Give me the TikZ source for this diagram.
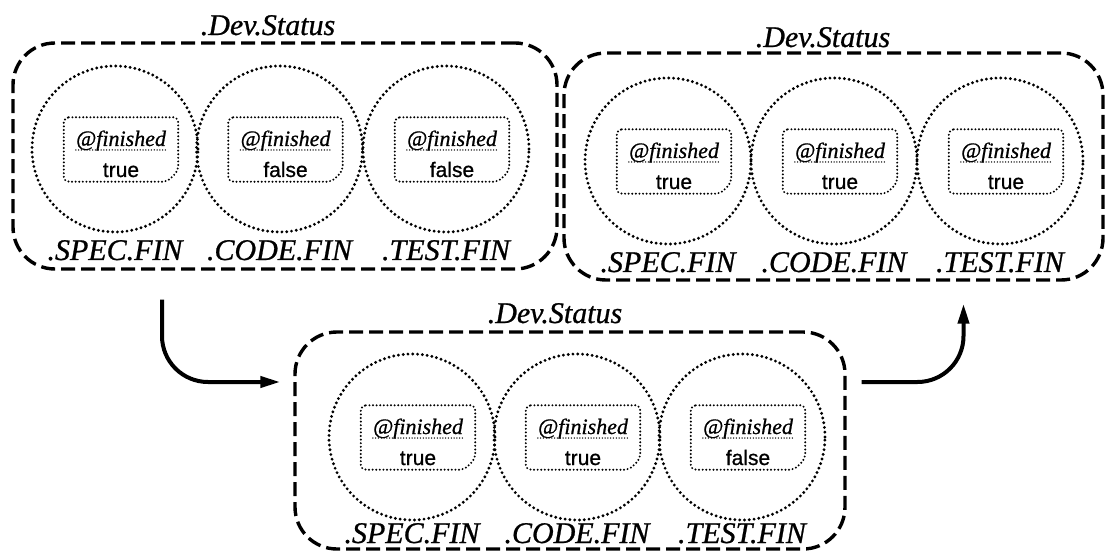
\documentclass[tikz,border=0pt]{standalone}
\usepackage{fontspec}
\setmainfont{Liberation Serif}[FakeBold=0.8]
\newfontfamily\valfont{Liberation Sans}[FakeBold=0.8]
\usetikzlibrary{arrows.meta}

\tikzset{
  container/.style={draw, line width=3.4pt, dash pattern=on 14pt off 6pt,
    rounded corners=42pt, inner sep=0pt},
  heading/.style={font=\fontsize{30}{30}\selectfont\itshape, inner sep=0pt, anchor=base},
  part/.style={circle, draw, line width=3.2pt, dash pattern=on 0pt off 4.8pt,
    line cap=round, minimum size=166pt, inner sep=0pt},
  partname/.style={font=\fontsize{30}{30}\selectfont\itshape, inner sep=0pt, anchor=base},
  field/.style={minimum width=114pt, minimum height=64pt, inner sep=0pt},
  fieldline/.style={line width=2.2pt, dash pattern=on 0pt off 3.6pt,
    line cap=round, rounded corners=5pt},
  attr/.style={font=\fontsize{22}{22}\selectfont\itshape, inner sep=0pt, anchor=base},
  attrline/.style={line width=1.5pt, dash pattern=on 0pt off 2.8pt, line cap=round},
  value/.style={font=\valfont\fontsize{21}{21}\selectfont, inner sep=0pt, anchor=base},
  flow/.style={line width=4pt, rounded corners=46pt,
    -{Triangle[length=20pt,width=11pt]}},
}

% attribute slot inside a part: name, part node, value
\newcommand\fieldbox[3]{%
  \node[field] (#1) at ([xshift=6pt,yshift=-0.5pt]#2.center) {};
  \draw[fieldline] (#1.north west) -- (#1.north east)
    -- ([yshift=11pt]#1.south east) -- ([xshift=-11pt]#1.south east)
    -- (#1.south west) -- cycle;
  \node[attr] (#1k) at ([yshift=3.5pt]#1.center) {@finished};
  \draw[attrline] ([yshift=-4pt]#1k.base west) -- ([yshift=-4pt]#1k.base east);
  \node[value] (#1v) at ([yshift=-27.5pt]#1.center) {#3};
}

\begin{document}
\begin{tikzpicture}[x=1pt, y=-1pt]
\useasboundingbox (0,0) rectangle (1105,553);

% containers
\node[container, minimum width=544pt, minimum height=226pt] (b1) at (285,156) {};
\node[container, minimum width=539pt, minimum height=227pt] (b2) at (833.5,166.5) {};
\node[container, minimum width=550pt, minimum height=217pt] (b3) at (570,440.5) {};

\node[heading] (t1) at (268,35) {.Dev.Status};
\node[heading] (t2) at (823,47) {.Dev.Status};
\node[heading] (t3) at (555,323) {.Dev.Status};

% parts of the first status
\node[part] (c11) at (115,149) {};
\node[part] (c12) at (279.5,149) {};
\node[part] (c13) at (446,149) {};
% parts of the second status
\node[part] (c21) at (668,161) {};
\node[part] (c22) at (834,161) {};
\node[part] (c23) at (1000,161) {};
% parts of the third status
\node[part] (c31) at (412,437) {};
\node[part] (c32) at (577,437) {};
\node[part] (c33) at (742,437) {};

\fieldbox{f11}{c11}{true}
\fieldbox{f12}{c12}{false}
\fieldbox{f13}{c13}{false}
\fieldbox{f21}{c21}{true}
\fieldbox{f22}{c22}{true}
\fieldbox{f23}{c23}{true}
\fieldbox{f31}{c31}{true}
\fieldbox{f32}{c32}{true}
\fieldbox{f33}{c33}{false}

% part names under the circles
\foreach \r/\d in {1/111,2/111,3/106}{
  \node[partname] (n\r1) at ([yshift=-\d pt]c\r1.center) {.SPEC.FIN};
  \node[partname] (n\r2) at ([yshift=-\d pt]c\r2.center) {.CODE.FIN};
  \node[partname] (n\r3) at ([yshift=-\d pt]c\r3.center) {.TEST.FIN};
}

% transitions
\draw[flow] ([xshift=-123pt,yshift=-29pt]b1.south) |- ([xshift=-13pt,yshift=58.5pt]b3.west);
\draw[flow] ([xshift=15pt,yshift=58.5pt]b3.east) -| ([xshift=130pt,yshift=-22pt]b2.south);
\end{tikzpicture}
\end{document}
